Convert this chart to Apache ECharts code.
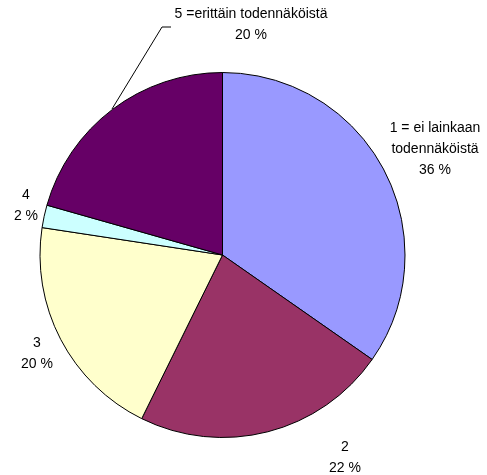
<!DOCTYPE html>
<html>
<head>
<meta charset="utf-8">
<script src="https://cdn.jsdelivr.net/npm/echarts@6/dist/echarts.min.js"></script>
<style>html,body{margin:0;padding:0;background:#fff}#c{width:487px;height:475px}</style>
</head>
<body>
<div id="c"></div>
<script>
const categories = ['1 = ei lainkaan\ntodennäköistä', '2', '3', '4', '5 =erittäin todennäköistä'];
const values = [34.7, 22.6, 20.1, 2.0, 20.6];
const percentLabels = ['36 %', '22 %', '20 %', '2 %', '20 %'];
const colors = ['#9999FF', '#993366', '#FFFFCC', '#CCFFFF', '#660066'];

const labelCenters = [[435, 149], [345, 458], [37, 354], [26, 206], [251, 25]];

const chart = echarts.init(document.getElementById('c'), null, {renderer: 'canvas'});
chart.setOption({
  animation: false,
  backgroundColor: '#fff',
  series: [{
    type: 'pie',
    center: [222.5, 255],
    radius: 182.5,
    startAngle: 90,
    clockwise: true,
    avoidLabelOverlap: false,
    itemStyle: {borderColor: '#000', borderWidth: 1},
    emphasis: {disabled: true},
    label: {
      show: true,
      position: 'outside',
      color: '#000',
      fontFamily: 'Liberation Sans, Arial, sans-serif',
      fontSize: 14,
      lineHeight: 21,
      formatter: p => p.name + '\n' + percentLabels[p.dataIndex]
    },
    labelLine: {show: false},
    labelLayout: function (p) {
      const c = labelCenters[p.dataIndex];
      const r = {x: c[0], y: c[1], align: 'center', verticalAlign: 'middle'};
      if (p.dataIndex === 4) {
        r.labelLinePoints = [[112, 109], [162, 27], [171, 27]];
      }
      return r;
    },
    data: categories.map((n, i) => ({
      name: n,
      value: values[i],
      itemStyle: {color: colors[i]},
      labelLine: i === 4 ? {show: true, lineStyle: {color: '#000', width: 1}} : {show: false}
    }))
  }]
});
</script>
</body>
</html>
